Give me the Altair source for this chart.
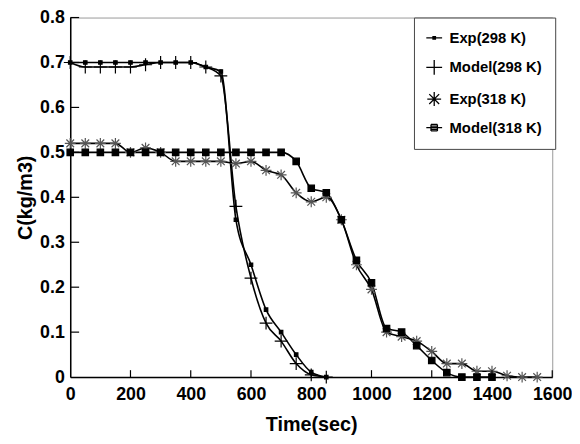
import altair as alt
import pandas as pd

series_names = ["Exp(298 K)", "Model(298 K)", "Exp(318 K)", "Model(318 K)"]

time_298 = [0, 50, 100, 150, 200, 250, 300, 350, 400, 450, 500, 550, 600, 650, 700, 750, 800, 850]
exp_298 = [0.70, 0.70, 0.70, 0.70, 0.70, 0.70, 0.70, 0.70, 0.70, 0.69, 0.68, 0.35, 0.25, 0.15, 0.10, 0.05, 0.011, 0.0]
model_298 = [0.70, 0.69, 0.69, 0.69, 0.69, 0.695, 0.70, 0.70, 0.70, 0.69, 0.67, 0.38, 0.22, 0.12, 0.08, 0.03, 0.005, 0.0]

time_exp_318 = [0, 50, 100, 150, 200, 250, 300, 350, 400, 450, 500, 550, 600, 650, 700, 750,
                800, 850, 900, 950, 1000, 1050, 1100, 1150, 1200, 1250, 1300, 1350, 1400, 1450, 1500, 1550]
exp_318 = [0.52, 0.52, 0.52, 0.52, 0.50, 0.51, 0.50, 0.48, 0.48, 0.48, 0.48, 0.475, 0.48, 0.46, 0.45, 0.41,
           0.39, 0.40, 0.35, 0.25, 0.195, 0.10, 0.09, 0.08, 0.057, 0.03, 0.03, 0.013, 0.013, 0.003, 0.0, 0.0]

time_model_318 = [0, 50, 100, 150, 200, 250, 300, 350, 400, 450, 500, 550, 600, 650, 700, 750,
                  800, 850, 900, 950, 1000, 1050, 1100, 1150, 1200, 1250, 1300, 1350, 1400]
model_318 = [0.50, 0.50, 0.50, 0.50, 0.50, 0.50, 0.50, 0.50, 0.50, 0.50, 0.50, 0.50, 0.50, 0.50, 0.50, 0.48,
             0.42, 0.41, 0.35, 0.26, 0.21, 0.108, 0.10, 0.07, 0.037, 0.01, 0.0, 0.0, 0.0]

x_tick_values = [0, 200, 400, 600, 800, 1000, 1200, 1400, 1600]
y_tick_values = [0, 0.1, 0.2, 0.3, 0.4, 0.5, 0.6, 0.7, 0.8]

rows = []
for name, ts, vs in [(series_names[0], time_298, exp_298),
                     (series_names[1], time_298, model_298),
                     (series_names[2], time_exp_318, exp_318),
                     (series_names[3], time_model_318, model_318)]:
    for t, v in zip(ts, vs):
        rows.append({"series": name, "Time": t, "C": v})
df = pd.DataFrame(rows)

W, H = 488, 364
FONT = "Liberation Sans"

xs = alt.Scale(domain=[0, 1600], nice=False)
ys = alt.Scale(domain=[0, 0.8], nice=False)

x_axis = alt.Axis(values=x_tick_values, format="d", title="Time(sec)", grid=False, ticks=False,
                  labelFont=FONT, labelFontWeight="bold", labelFontSize=18, labelColor="black",
                  labelPadding=9, titleFont=FONT, titleFontWeight="bold", titleFontSize=20,
                  titleColor="black", titlePadding=11, domainColor="black", domainWidth=1.5,
                  labelFlush=False, labelOverlap=False)
y_axis = alt.Axis(values=y_tick_values, title="C(kg/m3)", grid=False, ticks=False,
                  labelExpr="datum.value == 0 ? '0' : format(datum.value, '.1f')",
                  labelFont=FONT, labelFontWeight="bold", labelFontSize=18, labelColor="black",
                  labelPadding=6, titleFont=FONT, titleFontWeight="bold", titleFontSize=20,
                  titleColor="black", titlePadding=4, domainColor="black", domainWidth=1.5,
                  labelFlush=False, labelOverlap=False)

X = alt.X("Time:Q", scale=xs, axis=x_axis)
Y = alt.Y("C:Q", scale=ys, axis=y_axis)

# mark size 100 -> one path unit = 5 px
marker_paths = [
    "M-0.35,-0.35H0.35V0.35H-0.35Z",
    "M-1.3,0H1.3M0,-1.3V1.3",
    "M-1.1,0H1.1M0,-1.1V1.1M-0.78,-0.78L0.78,0.78M-0.78,0.78L0.78,-0.78",
    "M-0.65,-0.65H0.65V0.65H-0.65Z",
]
marker_strokes = ["black", "black", "#555555", "black"]

legend_paths = [
    "M-1.6,0H1.6M-0.25,-0.25H0.25V0.25H-0.25Z",
    "M-1.6,0H1.6M0,-1.5V1.5",
    "M-1.4,0H1.4M0,-1.4V1.4M-1,-1L1,1M-1,1L1,-1",
    "M-1.6,0H1.6M-0.65,-0.65H0.65M-0.65,-0.33H0.65M-0.65,0.33H0.65M-0.65,0.65H0.65M-0.65,-0.65V0.65M0.65,-0.65V0.65",
]

lines = alt.Chart(df).mark_line(interpolate="monotone", color="black", strokeWidth=1.6).encode(
    x=X, y=Y, detail="series:N"
)

points = alt.Chart(df).mark_point(filled=True, fill="black", strokeWidth=1.2, opacity=1, size=100).encode(
    x=X, y=Y,
    shape=alt.Shape("series:N", scale=alt.Scale(domain=series_names, range=marker_paths), legend=None),
    stroke=alt.Stroke("series:N", scale=alt.Scale(domain=series_names, range=marker_strokes), legend=None),
)

legend_layer = alt.Chart(df).mark_point(filled=False, size=100, opacity=0,
                                         stroke="black", strokeWidth=1.3).encode(
    x=X, y=Y,
    shape=alt.Shape("series:N", scale=alt.Scale(domain=series_names, range=legend_paths),
                    legend=alt.Legend(title=None, orient="none", legendX=348, legendY=0,
                                      padding=13, strokeColor="#444444", fillColor="white",
                                      labelFont=FONT, labelFontWeight="bold", labelFontSize=15,
                                      labelColor="black", labelOffset=8, rowPadding=11,
                                      symbolSize=100, symbolOpacity=1, symbolStrokeColor="black",
                                      symbolStrokeWidth=1.3)),
)

x_ticks = alt.Chart(pd.DataFrame({"Time": x_tick_values[1:]})).mark_rule(color="black", strokeWidth=1.2).encode(
    x=X, y=alt.value(H), y2=alt.value(H - 7)
)
y_ticks = alt.Chart(pd.DataFrame({"C": y_tick_values[1:]})).mark_rule(color="black", strokeWidth=1.2).encode(
    y=Y, x=alt.value(0), x2=alt.value(9)
)

chart = alt.layer(lines, points, legend_layer, x_ticks, y_ticks).resolve_scale(
    shape="independent", stroke="independent"
).properties(
    width=W, height=H, autosize="none",
    padding={"left": 63, "top": 7, "right": 20, "bottom": 57},
).configure_view(stroke="#999999", strokeWidth=1)

chart.save("out.html", embed_options={"renderer": "svg", "actions": False})
